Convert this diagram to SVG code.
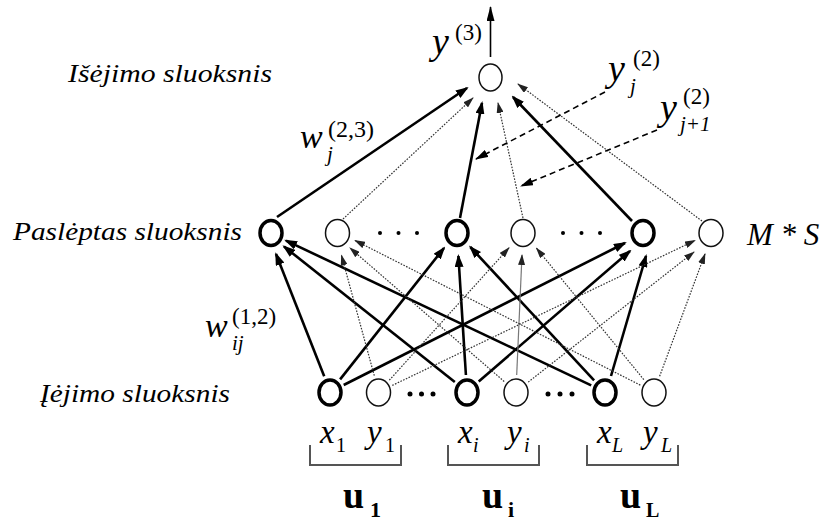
<svg xmlns="http://www.w3.org/2000/svg" width="824" height="522" viewBox="0 0 824 522">
<defs>
<marker id="ab" markerUnits="userSpaceOnUse" markerWidth="13" markerHeight="9" refX="11" refY="4.5" orient="auto"><path d="M0,0 L13,4.5 L0,9 z" fill="#000"/></marker>
<marker id="at" markerUnits="userSpaceOnUse" markerWidth="11" markerHeight="7" refX="10" refY="3.5" orient="auto"><path d="M0,0 L11,3.5 L0,7 z" fill="#222"/></marker>
<marker id="ad" markerUnits="userSpaceOnUse" markerWidth="13" markerHeight="8" refX="12" refY="4" orient="auto"><path d="M0,0 L13,4 L0,8 z" fill="#000"/></marker>
<marker id="ao" markerUnits="userSpaceOnUse" markerWidth="15" markerHeight="8" refX="14" refY="4" orient="auto"><path d="M0,0 L15,4 L0,8 z" fill="#000"/></marker>
</defs>
<style>
.nb{fill:#fff;stroke:#000;stroke-width:3.5}
.nt{fill:#fff;stroke:#111;stroke-width:1.5}
.dot{fill:#000}
.b{stroke:#000;stroke-width:2.6;fill:none;marker-end:url(#ab)}
.t{stroke:#333;stroke-width:1.2;stroke-dasharray:1.6 1.4;fill:none;marker-end:url(#at)}
.g{stroke:#777;stroke-width:1.2;fill:none;marker-end:url(#at)}
.d{stroke:#000;stroke-width:1.6;stroke-dasharray:6 4;fill:none;marker-end:url(#ad)}
.o{stroke:#000;stroke-width:1.6;fill:none;marker-end:url(#ao)}
.br{stroke:#555;stroke-width:2;fill:none}
.lbl{font-size:25px;font-style:italic}
.it{font-style:italic}
.bf{font-weight:bold}
</style>

<g id="connectors">
<line class="b" x1="324.2" y1="376.3" x2="276" y2="254"/>
<line class="b" x1="340.1" y1="379.4" x2="444" y2="248"/>
<line class="b" x1="343.7" y1="385" x2="625" y2="243"/>
<line class="b" x1="454.8" y1="382.1" x2="284" y2="246.5"/>
<line class="b" x1="465.9" y1="375" x2="458.4" y2="256"/>
<line class="b" x1="478.7" y1="381.4" x2="630" y2="251"/>
<line class="b" x1="591.2" y1="385.4" x2="286" y2="240.6"/>
<line class="b" x1="594.1" y1="380.3" x2="470.3" y2="247"/>
<line class="b" x1="611" y1="376" x2="646" y2="256"/>
<line class="t" x1="374.3" y1="375.7" x2="341.5" y2="255.5"/>
<line class="t" x1="389.3" y1="380.2" x2="509" y2="247.8"/>
<line class="t" x1="392.3" y1="385.4" x2="695" y2="240.5"/>
<line class="t" x1="504.2" y1="381.5" x2="350" y2="248"/>
<line class="g" x1="516.7" y1="375" x2="522" y2="255"/>
<line class="t" x1="528.2" y1="382.1" x2="694" y2="252"/>
<line class="t" x1="640.3" y1="385.1" x2="355" y2="240.5"/>
<line class="t" x1="643.8" y1="379.6" x2="536.5" y2="248.2"/>
<line class="t" x1="659.6" y1="376.3" x2="705" y2="254"/>
<line class="b" x1="277" y1="217" x2="467" y2="88"/>
<line class="t" x1="343" y1="219" x2="473" y2="98"/>
<line class="b" x1="460" y1="218" x2="482" y2="103"/>
<line class="t" x1="523" y1="218" x2="498" y2="103"/>
<line class="b" x1="632" y1="221" x2="513" y2="97"/>
<line class="t" x1="702" y1="221" x2="518" y2="84"/>
<line class="o" x1="490.5" y1="57" x2="490.5" y2="7"/>
<line class="d" x1="605" y1="92" x2="476" y2="159"/>
<line class="d" x1="657" y1="130" x2="521" y2="186"/>
</g>

<g id="out"><ellipse cx="490.5" cy="77.5" rx="11.5" ry="13.5" class="nt" stroke-width="1.8"/></g>

<g id="h1"><ellipse cx="271" cy="233" rx="11" ry="12.5" class="nb"/></g>
<g id="h2"><ellipse cx="337.5" cy="233" rx="12" ry="13.5" class="nt"/></g>
<g id="h3"><ellipse cx="457" cy="233" rx="11" ry="12.5" class="nb"/></g>
<g id="h4"><ellipse cx="523" cy="233" rx="12" ry="13.5" class="nt"/></g>
<g id="h5"><ellipse cx="643" cy="233" rx="11" ry="12.5" class="nb"/></g>
<g id="h6"><ellipse cx="711" cy="233" rx="12" ry="13.5" class="nt"/></g>
<g id="hdots">
<circle class="dot" cx="380" cy="233" r="2"/><circle class="dot" cx="398.5" cy="233" r="2"/><circle class="dot" cx="417" cy="233" r="2"/>
<circle class="dot" cx="563" cy="233" r="2"/><circle class="dot" cx="581.5" cy="233" r="2"/><circle class="dot" cx="600" cy="233" r="2"/>
</g>

<g id="x1"><ellipse cx="330" cy="392.5" rx="11" ry="12.5" class="nb"/></g>
<g id="y1"><ellipse cx="378.5" cy="392.5" rx="12" ry="13.5" class="nt"/></g>
<g id="xi"><ellipse cx="467" cy="392.5" rx="11" ry="12.5" class="nb"/></g>
<g id="yi"><ellipse cx="516" cy="392.5" rx="12" ry="13.5" class="nt"/></g>
<g id="xL"><ellipse cx="605" cy="392.5" rx="11" ry="12.5" class="nb"/></g>
<g id="yL"><ellipse cx="654" cy="392.5" rx="12" ry="13.5" class="nt"/></g>
<g id="idots">
<circle class="dot" cx="410" cy="394" r="2.5"/><circle class="dot" cx="421.5" cy="394" r="2.5"/><circle class="dot" cx="433" cy="394" r="2.5"/>
<circle class="dot" cx="548" cy="394" r="2.5"/><circle class="dot" cx="560" cy="394" r="2.5"/><circle class="dot" cx="572" cy="394" r="2.5"/>
</g>

<g id="brackets">
<path class="br" d="M310,445 V465 H401 V445"/>
<path class="br" d="M448,445 V465 H539 V445"/>
<path class="br" d="M587,445 V465 H678 V445"/>
</g>

<g id="labels" font-family="'Liberation Serif', 'DejaVu Serif', serif" fill="#000">
<text class="lbl" x="68" y="82" textLength="204" lengthAdjust="spacingAndGlyphs">Išėjimo sluoksnis</text>
<text class="lbl" x="13" y="240" textLength="229" lengthAdjust="spacingAndGlyphs">Paslėptas sluoksnis</text>
<text class="lbl" x="40" y="402" textLength="190" lengthAdjust="spacingAndGlyphs">Įėjimo sluoksnis</text>

<text class="it" x="432" y="54" font-size="38">y</text>
<text x="455" y="40" font-size="23">(3)</text>

<text class="it" x="608" y="81" font-size="38">y</text>
<text x="633" y="66" font-size="23">(2)</text>
<text class="it" x="630" y="93" font-size="21">j</text>

<text class="it" x="660" y="120" font-size="38">y</text>
<text x="683" y="104" font-size="23">(2)</text>
<text class="it" x="680" y="131" font-size="21">j+1</text>

<text class="it" x="300" y="148" font-size="34">w</text>
<text x="328" y="137" font-size="24">(2,3)</text>
<text class="it" x="327" y="161" font-size="21">j</text>

<text class="it" x="205" y="337" font-size="34">w</text>
<text x="232" y="324" font-size="23">(1,2)</text>
<text class="it" x="232" y="350" font-size="21">ij</text>

<text class="it" x="747" y="245" font-size="31">M * S</text>

<text class="it" x="320" y="443" font-size="33">x</text><text x="336" y="452" font-size="20">1</text>
<text class="it" x="367" y="443" font-size="33">y</text><text x="385" y="452" font-size="20">1</text>
<text class="it" x="458" y="443" font-size="33">x</text><text class="it" x="473" y="452" font-size="20">i</text>
<text class="it" x="507" y="443" font-size="33">y</text><text class="it" x="524" y="452" font-size="20">i</text>
<text class="it" x="597" y="443" font-size="33">x</text><text class="it" x="612" y="452" font-size="20">L</text>
<text class="it" x="643" y="443" font-size="33">y</text><text class="it" x="661" y="452" font-size="20">L</text>

<text class="bf" x="343" y="508" font-size="38">u</text><text class="bf" x="370" y="517" font-size="22">1</text>
<text class="bf" x="482" y="508" font-size="38">u</text><text class="bf" x="508" y="517" font-size="22">i</text>
<text class="bf" x="620" y="508" font-size="38">u</text><text class="bf" x="646" y="517" font-size="20">L</text>
</g>
</svg>
